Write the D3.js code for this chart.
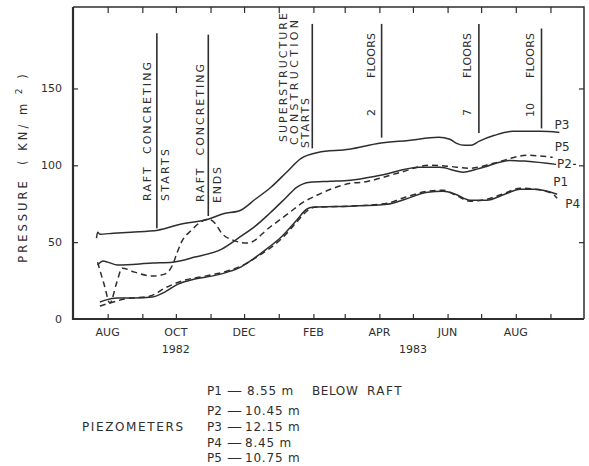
<!DOCTYPE html>
<html>
<head>
<meta charset="utf-8">
<script src="https://cdn.jsdelivr.net/npm/d3@7"></script>
<style>
  body { margin: 0; background: #fff; }
  svg { display: block; font-family: "DejaVu Sans", sans-serif; }
</style>
</head>
<body>
<svg width="589" height="466"></svg>
<script>
// Piezometer readings (date, pressure kN/m2)
const p3 = [["1982-07-22",52.6],["1982-07-23",56.5],["1982-07-25",55.2],["1982-08-06",55.8],["1982-08-22",56.5],
  ["1982-09-15",57.8],["1982-10-05",61.7],["1982-10-30",64.9],["1982-11-11",68.2],["1982-11-28",70.8],
  ["1982-12-11",77.9],["1982-12-25",85.7],["1983-01-08",95.5],["1983-01-21",104.5],["1983-02-05",108.4],
  ["1983-03-05",110.4],["1983-04-01",114.3],["1983-04-27",116.2],["1983-05-24",118.2],["1983-06-03",116.9],
  ["1983-06-09",114.3],["1983-06-16",113],["1983-06-22",113],["1983-06-29",115.6],["1983-07-13",119.5],
  ["1983-07-29",122.1],["1983-08-23",122.1],["1983-09-09",121.4]];
const p2 = [["1982-07-23",35.1],["1982-07-28",37.7],["1982-08-01",37.0],["1982-08-10",35.1],["1982-09-10",36.4],
  ["1982-09-28",37.0],["1982-10-18",40.3],["1982-11-11",45.5],["1982-11-27",53.2],["1982-12-11",60.4],
  ["1982-12-24",68.8],["1983-01-07",78.6],["1983-01-17",85.7],["1983-01-29",89.0],["1983-02-16",89.6],
  ["1983-03-06",90.3],["1983-04-02",93.5],["1983-05-07",98.7],["1983-05-25",98.7],["1983-06-15",95.5],
  ["1983-06-30",98.1],["1983-07-27",103.2],["1983-08-11",102.6],["1983-09-06",100.6]];
const p5 = [["1982-07-23",37.0],["1982-07-29",22.1],["1982-08-03",10.4],["1982-08-09",23.4],["1982-08-14",33.1],
  ["1982-08-25",30.5],["1982-09-10",27.9],["1982-09-21",29.2],["1982-09-28",35.1],["1982-10-02",42.9],
  ["1982-10-06",50.0],["1982-10-15",57.8],["1982-10-23",63.0],["1982-10-30",64.9],["1982-11-05",62.3],
  ["1982-11-11",55.8],["1982-11-21",51.3],["1982-12-04",49.4],["1982-12-24",59.7],["1983-01-11",69.5],
  ["1983-01-23",76.0],["1983-02-04",80.5],["1983-02-19",85.1],["1983-03-06",88.3],["1983-03-17",89.0],
  ["1983-04-17",94.8],["1983-05-16",100.0],["1983-06-01",99.4],["1983-06-21",98.1],["1983-07-12",101.3],
  ["1983-08-11",106.5],["1983-09-03",105.2]];
const p4 = [["1982-07-25",11.0],["1982-07-30",12.3],["1982-08-10",13.6],["1982-08-25",13.6],["1982-09-10",14.3],
  ["1982-09-21",17.5],["1982-10-03",22.7],["1982-10-18",26.0],["1982-11-02",27.9],["1982-11-16",30.5],
  ["1982-11-28",33.8],["1982-12-09",39.0],["1982-12-21",45.5],["1983-01-03",53.2],["1983-01-17",64.3],
  ["1983-01-26",71.4],["1983-01-31",72.7],["1983-03-06",73.4],["1983-04-08",74.7],["1983-04-24",77.9],
  ["1983-05-14",82.5],["1983-05-28",83.1],["1983-06-08",81.2],["1983-06-21",77.3],["1983-07-06",77.3],
  ["1983-07-22",81.2],["1983-08-05",84.4],["1983-08-18",84.4],["1983-09-07",81.2]];
const p1 = [["1982-07-25",8.4],["1982-08-03",10.4],["1982-08-16",13.0],["1982-09-08",14.9],["1982-09-21",20.1],
  ["1982-10-09",25.3],["1982-10-27",27.9],["1982-11-16",31.2],["1982-12-02",35.7],["1982-12-15",41.6],
  ["1983-01-03",51.9],["1983-01-17",63.0],["1983-01-26",70.1],["1983-02-02",72.7],["1983-03-06",73.4],
  ["1983-04-08",75.3],["1983-04-24",79.2],["1983-05-14",83.1],["1983-05-28",83.8],["1983-06-10",79.9],
  ["1983-06-21",76.6],["1983-07-06",77.9],["1983-07-22",81.8],["1983-08-05",85.1],["1983-08-18",84.4],
  ["1983-09-02",81.8],["1983-09-07",78.6]];

const seriesNames = ["P3", "P5", "P2", "P1", "P4"];
const seriesData = [p3, p5, p2, p1, p4];
const seriesDashed = [false, true, false, true, false];

// Construction events
const eventDates = ["1982-09-14", "1982-10-30", "1983-01-31", "1983-04-03", "1983-06-29", "1983-08-24"];
const eventLabels = [["RAFT  CONCRETING", "STARTS"], ["RAFT  CONCRETING", "ENDS"],
  ["SUPERSTRUCTURE", "CONSTRUCTION", "STARTS"], ["2", "FLOORS"], ["7", "FLOORS"], ["10", "FLOORS"]];
const eventTops = [186, 185, 192, 192, 192, 189];
const eventBottoms = [59, 67, 111, 118, 121, 124];

// Axis ticks and labels
const monthLabelDates = ["1982-08-01", "1982-10-01", "1982-12-01", "1983-02-01", "1983-04-01", "1983-06-01", "1983-08-01"];
const monthLabels = ["AUG", "OCT", "DEC", "FEB", "APR", "JUN", "AUG"];
const yearLabels = ["1982", "1983"];
const yearLabelDates = ["1982-10-01", "1983-05-01"];
const yTicks = [0, 50, 100, 150];

const piezometers = ["P1", "P2", "P3", "P4", "P5"];
const depths = ["8.55 m", "10.45 m", "12.15 m", "8.45 m", "10.75 m"];

const ink = "#2e2e2e";
const parse = d3.timeParse("%Y-%m-%d");
const svg = d3.select("svg");

const x = d3.scaleTime().domain([parse("1982-07-01"), parse("1983-10-01")]).range([73, 584]);
const y = d3.scaleLinear().domain([0, 203]).range([319, 7]);

// Month ticks on top and bottom, pressure ticks left and right (all inward)
const months = d3.timeMonth.range(parse("1982-08-01"), parse("1983-10-01"));
function tickAxis(axis, tx, ty) {
    const g = svg.append("g").attr("transform", `translate(${tx},${ty})`).call(axis);
    g.select(".domain").remove();
    g.selectAll("line").attr("stroke", ink).attr("stroke-width", 1.2);
    return g;
}
tickAxis(d3.axisBottom(x).tickValues(months).tickSize(-5).tickFormat(""), 0, 319);
tickAxis(d3.axisTop(x).tickValues(months).tickSize(-6).tickFormat(""), 0, 7);
tickAxis(d3.axisLeft(y).tickValues([50, 100, 150]).tickSize(-5).tickFormat(""), 73, 0);
tickAxis(d3.axisRight(y).tickValues([50, 100, 150]).tickSize(-5).tickFormat(""), 584, 0);

// Frame
svg.append("path").attr("d", "M73,7H584V319").attr("fill", "none").attr("stroke", ink).attr("stroke-width", 1.5);
svg.append("path").attr("d", "M73,7V319H584").attr("fill", "none").attr("stroke", ink).attr("stroke-width", 2.2);

// Tick labels
svg.append("g").selectAll("text").data(yTicks).join("text")
    .attr("x", 62).attr("y", d => y(d)).attr("dy", "0.35em")
    .attr("text-anchor", "end").attr("font-size", 11).attr("fill", ink)
    .text(d => d);

svg.append("g").selectAll("text").data(monthLabels).join("text")
    .attr("x", (d, i) => x(parse(monthLabelDates[i]))).attr("y", 336)
    .attr("text-anchor", "middle").attr("font-size", 11).attr("fill", ink)
    .text(d => d);

svg.append("g").selectAll("text").data(yearLabels).join("text")
    .attr("x", (d, i) => x(parse(yearLabelDates[i]))).attr("y", 353)
    .attr("text-anchor", "middle").attr("font-size", 11).attr("fill", ink)
    .text(d => d);

// Y title
const ytitle = svg.append("text")
    .attr("transform", "translate(23,167) rotate(-90)")
    .attr("text-anchor", "middle").attr("dominant-baseline", "central")
    .attr("font-size", 11.5).attr("letter-spacing", 3).attr("fill", ink)
    .style("white-space", "pre");
ytitle.append("tspan").text("PRESSURE  ( KN/ m ");
ytitle.append("tspan").attr("dy", -4).attr("font-size", 9).text("2");
ytitle.append("tspan").attr("dy", 4).text(" )");

// Series
const line = d3.line()
    .x(d => x(parse(d[0])))
    .y(d => y(d[1]))
    .curve(d3.curveMonotoneX);

svg.append("g").selectAll("path").data(seriesData).join("path")
    .attr("d", line)
    .attr("fill", "none")
    .attr("stroke", ink)
    .attr("stroke-width", 1.5)
    .attr("stroke-dasharray", (d, i) => seriesDashed[i] ? "6,4" : null);

// Series labels beside line ends
const labelOffsets = { P3: [-5, -7], P5: [2, -10], P2: [1, 0], P1: [-4, -16], P4: [8, 10] };
seriesNames.forEach((name, i) => {
    const last = seriesData[i][seriesData[i].length - 1];
    const [dx, dy] = labelOffsets[name];
    svg.append("text")
        .attr("x", x(parse(last[0])) + dx).attr("y", y(last[1]) + dy)
        .attr("dominant-baseline", "central")
        .attr("font-size", 12).attr("fill", ink)
        .text(name);
});
// small leader after P2
const p2Last = p2[p2.length - 1];
svg.append("line")
    .attr("x1", x(parse(p2Last[0])) + 17).attr("x2", x(parse(p2Last[0])) + 20)
    .attr("y1", y(p2Last[1])).attr("y2", y(p2Last[1]))
    .attr("stroke", ink).attr("stroke-width", 1.2);

// Event markers
const eventLayout = [
    [{ dx: -9, y0: 201, len: 139 }, { dx: 9, y0: 201, len: 52 }],
    [{ dx: -8, y0: 202, len: 138 }, { dx: 9, y0: 203, len: 36 }],
    [{ dx: -29, y0: 142, len: 129 }, { dx: -18, y0: 145, len: 125 }, { dx: -7, y0: 148, len: 50 }],
    [{ dx: -10, y0: 116 }, { dx: -10, y0: 78, len: 45 }],
    [{ dx: -11, y0: 116 }, { dx: -11, y0: 78, len: 45 }],
    [{ dx: -11, y0: 117 }, { dx: -11, y0: 78, len: 45 }]
];

eventDates.forEach((d, i) => {
    const ex = x(parse(d));
    svg.append("line")
        .attr("x1", ex).attr("x2", ex)
        .attr("y1", y(eventTops[i])).attr("y2", y(eventBottoms[i]))
        .attr("stroke", ink).attr("stroke-width", 1.6);
    eventLabels[i].forEach((t, j) => {
        const L = eventLayout[i][j];
        const txt = svg.append("text")
            .attr("transform", `translate(${ex + L.dx},${L.y0}) rotate(-90)`)
            .attr("dominant-baseline", "central")
            .attr("font-size", 11).attr("fill", ink)
            .style("white-space", "pre")
            .text(t);
        if (L.len) txt.attr("textLength", L.len).attr("lengthAdjust", "spacing");
    });
});

// Piezometer key
const keyBaselines = [395, 415, 430.5, 446.5, 461.5];
svg.append("text")
    .attr("x", 82).attr("y", 430.5)
    .attr("font-size", 12).attr("fill", ink)
    .attr("textLength", 101).attr("lengthAdjust", "spacing")
    .text("PIEZOMETERS");

const key = svg.append("g").selectAll("g").data(piezometers).join("g")
    .attr("transform", (d, i) => `translate(0,${keyBaselines[i]})`)
    .attr("font-size", 12).attr("fill", ink);
key.append("text").attr("x", 207).text(d => d);
key.append("text").attr("x", 227).attr("textLength", 15).attr("lengthAdjust", "spacingAndGlyphs").text("—");
key.append("text").attr("x", (d, i) => i === 0 ? 247 : 245)
    .attr("letter-spacing", 0.8)
    .text((d, i) => depths[i]);
svg.append("text")
    .attr("x", 312).attr("y", keyBaselines[0])
    .attr("font-size", 12).attr("fill", ink).attr("letter-spacing", 0.6)
    .text("BELOW");
svg.append("text")
    .attr("x", 367).attr("y", keyBaselines[0])
    .attr("font-size", 12).attr("fill", ink).attr("letter-spacing", 1.5)
    .text("RAFT");
</script>
</body>
</html>
